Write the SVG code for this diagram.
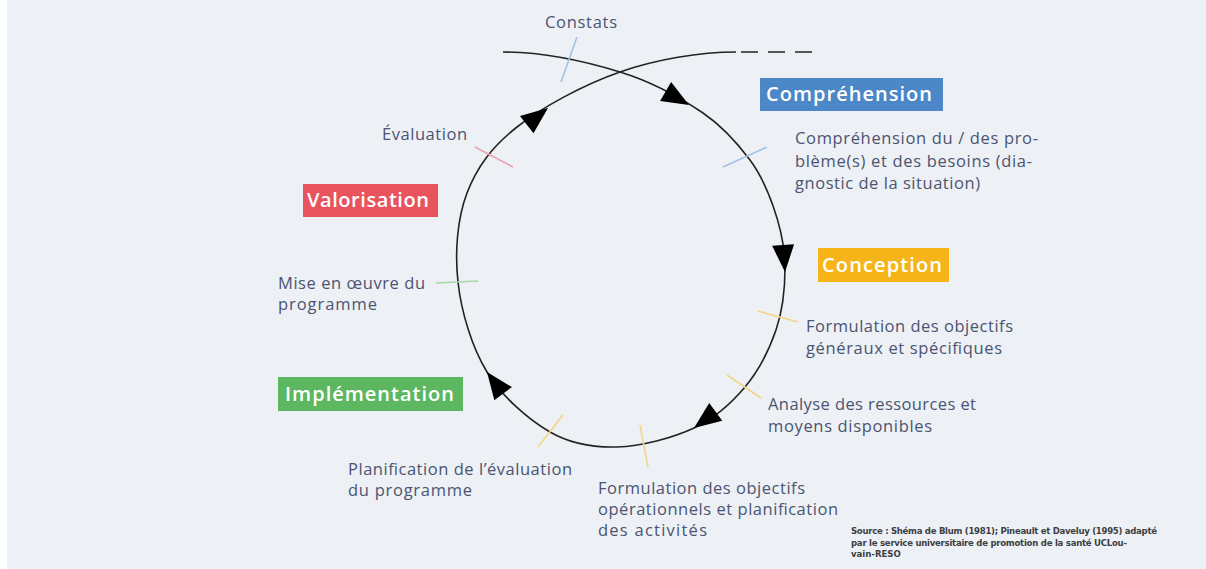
<svg xmlns="http://www.w3.org/2000/svg" xmlns:xlink="http://www.w3.org/1999/xlink" width="1206" height="569" viewBox="0 0 1206 569">
<style>
.lbl{font-family:"Open Sans","Noto Sans","Liberation Sans",sans-serif;font-size:16.5px;fill:#4b5472;}
.phase{font-family:"Open Sans","Noto Sans","Liberation Sans",sans-serif;font-size:20px;font-weight:600;fill:#ffffff;}
.src{font-family:"DejaVu Sans Condensed","DejaVu Sans","Liberation Sans",sans-serif;font-size:9.5px;font-weight:bold;fill:#3c3f44;}
.loop{fill:none;stroke:#222222;stroke-width:1.6;}
.tick{fill:none;stroke-width:1.6;}
.tb{stroke:#a3c1e2;}
.tr{stroke:#eba2aa;}
.tg{stroke:#a9d6aa;}
.ty{stroke:#f2d589;}
.head{fill:#000000;}
</style>
<defs>
<path id="ah" d="M0,0 L-27,-11 L-27,11 Z"/>
</defs>
<rect x="0" y="0" width="1206" height="569" fill="#edf0f4"/>
<rect x="0" y="0" width="7" height="569" fill="#ffffff"/>

<g id="connectors">
<path class="loop" d="M503,52 C545,52 586.7,61.8 620,72 C653.3,82.2 681.3,98.3 703,113 C724.7,127.7 739.2,145.6 750,160 C765.6,180.8 785,228 785,268 C785,290 782.7,310.5 776,330 C769.3,349.5 758.7,370.7 745,387 C731.3,403.3 715.3,418 694,428 C672.7,438 641,446.3 617,447 C593,447.7 571.7,444.5 550,432 C528.3,419.5 502.3,397 487,372 C471.7,347 461.3,311.8 458,282 C454.7,252.2 457.2,218.8 467,193 C476.8,167.2 491.5,147.2 517,127 C542.5,106.8 584.2,84.5 620,72 C655.8,59.5 700,52 736,52"/>
<path class="loop" d="M741,52 L812,52" stroke-dasharray="17 10"/>
<use xlink:href="#ah" class="head" transform="translate(689,105) rotate(30)"/>
<use xlink:href="#ah" class="head" transform="translate(785,272) rotate(86)"/>
<use xlink:href="#ah" class="head" transform="translate(694,428) rotate(143.6)"/>
<use xlink:href="#ah" class="head" transform="translate(487,372) rotate(-126.7)"/>
<use xlink:href="#ah" class="head" transform="translate(548,108) rotate(-38)"/>
<line class="tick tb" x1="577" y1="37" x2="561" y2="82"/>
<line class="tick tb" x1="723" y1="167" x2="767" y2="147"/>
<line class="tick tr" x1="475" y1="147" x2="513" y2="167"/>
<line class="tick tg" x1="436" y1="283" x2="478" y2="281"/>
<line class="tick ty" x1="758" y1="311" x2="798" y2="322"/>
<line class="tick ty" x1="727" y1="375" x2="761" y2="398"/>
<line class="tick ty" x1="640" y1="425" x2="648" y2="467"/>
<line class="tick ty" x1="563" y1="415" x2="538" y2="447"/>
</g>

<g id="constats">
<text class="lbl" x="545" y="27.5" textLength="72">Constats</text>
</g>

<g id="comprehension">
<rect x="760" y="78" width="183" height="33" fill="#4c87c7"/>
<text class="phase" x="766" y="100.5" textLength="166">Compréhension</text>
</g>

<g id="comprehension-detail">
<text class="lbl" x="795" y="144" textLength="243">Compréhension du / des pro-</text>
<text class="lbl" x="795" y="166.5" textLength="237">blème(s) et des besoins (dia-</text>
<text class="lbl" x="795" y="189" textLength="185">gnostic de la situation)</text>
</g>

<g id="conception">
<rect x="818" y="248" width="131" height="34" fill="#f5b519"/>
<text class="phase" x="822" y="271.5" textLength="120">Conception</text>
</g>

<g id="objectifs-generaux">
<text class="lbl" x="806" y="331.5" textLength="207">Formulation des objectifs</text>
<text class="lbl" x="806" y="353.5" textLength="196">généraux et spécifiques</text>
</g>

<g id="ressources">
<text class="lbl" x="768" y="410" textLength="208">Analyse des ressources et</text>
<text class="lbl" x="768" y="431.5" textLength="164">moyens disponibles</text>
</g>

<g id="objectifs-operationnels">
<text class="lbl" x="598" y="493.5" textLength="207">Formulation des objectifs</text>
<text class="lbl" x="598" y="514.5" textLength="240">opérationnels et planification</text>
<text class="lbl" x="598" y="535.5" textLength="109">des activités</text>
</g>

<g id="planification-evaluation">
<text class="lbl" x="348" y="474.5" textLength="224">Planification de l’évaluation</text>
<text class="lbl" x="348" y="496" textLength="124">du programme</text>
</g>

<g id="implementation">
<rect x="278" y="377" width="185" height="34" fill="#5cb760"/>
<text class="phase" x="285" y="400.5" textLength="169">Implémentation</text>
</g>

<g id="mise-en-oeuvre">
<text class="lbl" x="278" y="288.5" textLength="147">Mise en œuvre du</text>
<text class="lbl" x="278" y="310" textLength="99">programme</text>
</g>

<g id="valorisation">
<rect x="303" y="184" width="135" height="33" fill="#e9535d"/>
<text class="phase" x="307" y="206.5" textLength="122">Valorisation</text>
</g>

<g id="evaluation">
<text class="lbl" x="382" y="140" textLength="85">Évaluation</text>
</g>

<g id="source">
<text class="src" x="851" y="534" textLength="306">Source : Shéma de Blum (1981); Pineault et Daveluy (1995) adapté</text>
<text class="src" x="851" y="545.5" textLength="276">par le service universitaire de promotion de la santé UCLou-</text>
<text class="src" x="851" y="557">vain-RESO</text>
</g>
</svg>
